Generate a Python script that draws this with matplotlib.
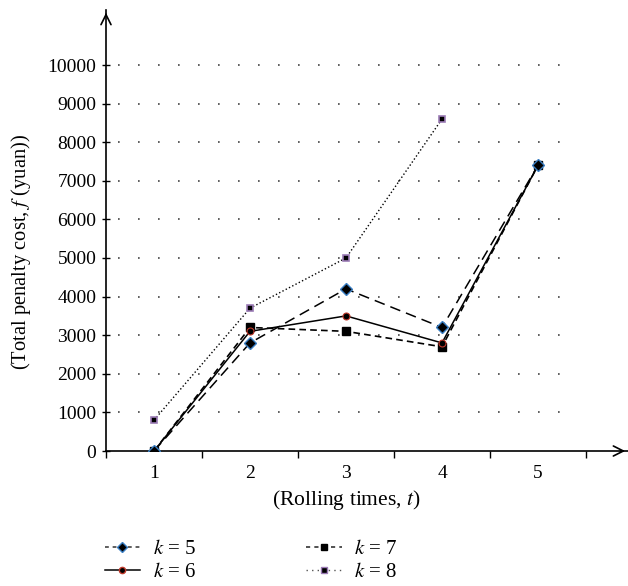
import matplotlib
matplotlib.use("Agg")
import matplotlib.pyplot as plt
from matplotlib.lines import Line2D

plt.rcParams['font.family'] = ['Liberation Serif', 'DejaVu Serif']
plt.rcParams['mathtext.fontset'] = 'stix'

rolling = [1, 2, 3, 4, 5]
k5 = [0, 2800, 4200, 3200, 7400]
k6 = [0, 3100, 3500, 2800, 7400]
k7 = [0, 3200, 3100, 2700, 7400]
k8 = [800, 3700, 5000, 8600]
yticks = [0, 1000, 2000, 3000, 4000, 5000, 6000, 7000, 8000, 9000, 10000]

fig = plt.figure(figsize=(6.28, 5.86), dpi=100)
ax = fig.add_axes([106/628, 135/586, 522/628, 441/586])
ax.set_xlim(0.5, 0.5 + 522/96)
ax.set_ylim(0, 441/38.6*1000)

# grid
for y in yticks[1:]:
    ax.hlines(y, 0.62, 5.42, colors='#444444', linestyles=(0, (1, 11)), linewidth=1.2, zorder=1)

ax.plot(rolling[:4], k8, ls=':', color='black', lw=1.0, marker='s', ms=5,
        mfc='black', mec='#9b7bb5', mew=1.2, zorder=3, label='$k$ = 8')
ax.plot(rolling, k7, ls=(0, (4, 2.5)), color='black', lw=1.2, marker='s', ms=5.5,
        mfc='black', mec='black', zorder=4, label='$k$ = 7')
ax.plot(rolling, k6, ls='-', color='black', lw=1.1, marker='o', ms=5,
        mfc='black', mec='#c0392b', mew=0.8, zorder=5, label='$k$ = 6')
ax.plot(rolling, k5, ls=(0, (7, 4)), color='black', lw=1.1, marker='D', ms=6,
        mfc='black', mec='#3a7fc4', mew=1.0, zorder=6, label='$k$ = 5')

for s in ['top', 'right']:
    ax.spines[s].set_visible(False)
for s in ['left', 'bottom']:
    ax.spines[s].set_linewidth(1.2)

ax.set_yticks(yticks)
ax.set_yticklabels([str(v) for v in yticks], fontsize=14)
ax.tick_params(axis='y', direction='inout', length=6, width=1, pad=4)

ax.set_xticks(rolling)
ax.set_xticklabels([str(v) for v in rolling], fontsize=14)
ax.set_xticks([0.5, 1.5, 2.5, 3.5, 4.5, 5.5], minor=True)
ax.tick_params(axis='x', which='major', length=0, pad=10)
ax.tick_params(axis='x', which='minor', direction='out', length=5, width=1)

# arrows
ax.annotate('', xy=(1.0, 0), xytext=(0.98, 0), xycoords='axes fraction',
            arrowprops=dict(arrowstyle='->', lw=1.2, mutation_scale=18))
ax.annotate('', xy=(0, 1.0), xytext=(0, 0.98), xycoords='axes fraction',
            arrowprops=dict(arrowstyle='->', lw=1.2, mutation_scale=18))

fig.text(346/628, 1 - 500/586, '(Rolling times, $t$)', ha='center', va='center', fontsize=15.5)
fig.text(21/628, 1 - 252/586, '(Total penalty cost, $f$ (yuan))', ha='center', va='center',
         rotation=90, fontsize=14.8)

h5 = Line2D([], [], ls=(0, (2.5, 2.5)), color='#333333', lw=1.1, marker='D', ms=5.5, mfc='black', mec='#3a7fc4')
h6 = Line2D([], [], ls='-', color='black', lw=1.1, marker='o', ms=4.5, mfc='black', mec='#c0392b')
h7 = Line2D([], [], ls=(0, (2.5, 2.5)), color='#333333', lw=1.2, marker='s', ms=5, mfc='black', mec='black')
h8 = Line2D([], [], ls=(0, (1, 3)), color='#555555', lw=1.0, marker='s', ms=4.5, mfc='black', mec='#9b7bb5')
fig.legend([h5, h6, h7, h8], ['$k$ = 5', '$k$ = 6', '$k$ = 7', '$k$ = 8'], ncol=2,
           loc='center left', bbox_to_anchor=(86/628, 1 - 561/586), frameon=False,
           fontsize=15, handlelength=1.7, handletextpad=0.6, columnspacing=5.3,
           labelspacing=0.15)

fig.savefig('out.png', dpi=100)
